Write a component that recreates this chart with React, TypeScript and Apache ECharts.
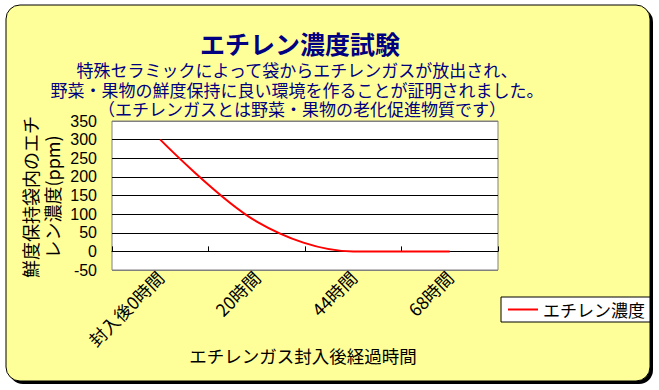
import React, { useEffect, useRef } from "react";
import * as echarts from "echarts";

const categories = ["封入後0時間", "20時間", "44時間", "68時間"];
const ethyleneValues = [300, 80, 0, 0];
const seriesName = "エチレン濃度";
const titleText = "エチレン濃度試験";
const subtitleLines = [
  "特殊セラミックによって袋からエチレンガスが放出され、",
  "野菜・果物の鮮度保持に良い環境を作ることが証明されました。",
  "（エチレンガスとは野菜・果物の老化促進物質です）",
];
const yNameLines = ["鮮度保持袋内のエチ", "レン濃度(ppm)"];
const xName = "エチレンガス封入後経過時間";
const yMin = -50;
const yMax = 350;
const yStep = 50;

const FONT = '"Noto Sans CJK JP", "Noto Sans", sans-serif';
const TFONT = '"Liberation Sans", "Noto Sans CJK JP", sans-serif';
const NUMFONT = '"Liberation Sans", Arial, sans-serif';

const subtitlePos = [
  { x: 297, y: 71 },
  { x: 297, y: 91 },
  { x: 302, y: 110 },
];

export default function App() {
  const ref = useRef<HTMLDivElement>(null);
  useEffect(() => {
    if (!ref.current) return;
    const chart = echarts.init(ref.current, null, { renderer: "svg" });
    const gridColors = ["#808080", "#000", "#000", "#000", "#000", "#000", "#000", "#000", "#808080"];
    chart.setOption({
      animation: false,
      textStyle: { fontFamily: FONT },
      graphic: [
        { type: "rect", z: -20, shape: { x: 9, y: 8, width: 644, height: 376, r: 14 }, style: { fill: "#000" } },
        { type: "rect", z: -19, shape: { x: 6, y: 5, width: 644, height: 376, r: 14 }, style: { fill: "#FFFF99", stroke: "#000", lineWidth: 1 } },
        { type: "text", z: 10, x: 300, y: 45, style: { text: titleText, font: `bold 25px ${TFONT}`, fill: "#000080", align: "center", verticalAlign: "middle" } },
        ...subtitleLines.map((t, i) => ({
          type: "text", z: 10, x: subtitlePos[i].x, y: subtitlePos[i].y,
          style: { text: t, font: `17px ${TFONT}`, fill: "#000080", align: "center", verticalAlign: "middle" },
        })),
        ...yNameLines.map((t, i) => ({
          type: "text", z: 10, x: 30 + i * 22, y: 197, rotation: Math.PI / 2,
          style: { text: t, font: `18px ${FONT}`, fill: "#000", align: "center", verticalAlign: "middle" },
        })),
        { type: "text", z: 10, x: 303, y: 355, style: { text: xName, font: `17.5px ${FONT}`, fill: "#000", align: "center", verticalAlign: "middle" } },
      ],
      legend: {
        left: 501,
        top: 297,
        data: [seriesName],
        icon: "rect",
        backgroundColor: "#fff",
        borderColor: "#000",
        borderWidth: 1,
        borderRadius: 0,
        padding: [4, 5, 4, 7],
        itemWidth: 30,
        itemHeight: 2,
        itemGap: 5,
        textStyle: { fontSize: 17, color: "#000", fontFamily: FONT },
      },
      grid: {
        left: 112,
        top: 121,
        width: 386,
        height: 149,
        show: true,
        backgroundColor: "#fff",
        borderColor: "#808080",
        borderWidth: 1,
      },
      xAxis: [
        {
          type: "category",
          data: categories,
          boundaryGap: true,
          position: "bottom",
          axisLine: { show: false, onZero: false },
          axisTick: { show: false },
          axisLabel: { interval: 0, rotate: 45, fontSize: 17.5, color: "#000", margin: 4, fontFamily: FONT },
          splitLine: { show: false },
        },
        {
          type: "category",
          data: categories,
          boundaryGap: true,
          position: "bottom",
          axisLine: { show: true, onZero: true, lineStyle: { color: "#000", width: 1 } },
          axisTick: { show: true, inside: true, length: 5, lineStyle: { color: "#000" } },
          axisLabel: { show: false },
          splitLine: { show: false },
        },
      ],
      yAxis: {
        type: "value",
        min: yMin,
        max: yMax,
        interval: yStep,
        axisLine: { show: false },
        axisTick: { show: false },
        axisLabel: { fontSize: 16, color: "#000", margin: 15, fontFamily: NUMFONT, lineHeight: 16 },
        splitLine: { show: true, lineStyle: { color: gridColors, width: 1 } },
      },
      series: [
        {
          name: seriesName,
          type: "line",
          xAxisIndex: 0,
          data: ethyleneValues,
          smooth: 0.33,
          symbol: "none",
          lineStyle: { color: "#FF0000", width: 2 },
          itemStyle: { color: "#FF0000" },
        },
      ],
    });
    return () => chart.dispose();
  }, []);
  return <div ref={ref} style={{ position: "absolute", left: 0, top: 0, width: 659, height: 390 }} />;
}
